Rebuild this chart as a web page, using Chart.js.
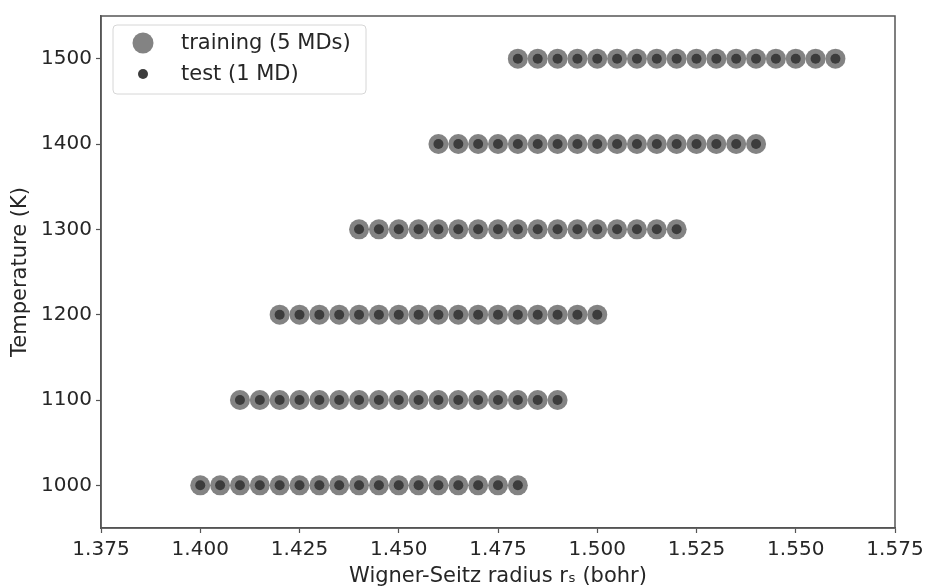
<!DOCTYPE html>
<html>
<head>
<meta charset="utf-8">
<script src="https://cdn.jsdelivr.net/npm/chart.js@4/dist/chart.umd.min.js"></script>
<style>
  html, body { margin: 0; padding: 0; background: #fff; }
  canvas { display: block; }
</style>
</head>
<body>
<canvas id="myChart" width="929" height="586"></canvas>
<script>
// temperatures (K) of each row of MD runs
const temperatures = [1000, 1100, 1200, 1300, 1400, 1500];

// Wigner-Seitz radii, one list per temperature
const rs1000 = [1.400, 1.405, 1.410, 1.415, 1.420, 1.425, 1.430, 1.435, 1.440, 1.445, 1.450, 1.455, 1.460, 1.465, 1.470, 1.475, 1.480];
const rs1100 = [1.410, 1.415, 1.420, 1.425, 1.430, 1.435, 1.440, 1.445, 1.450, 1.455, 1.460, 1.465, 1.470, 1.475, 1.480, 1.485, 1.490];
const rs1200 = [1.420, 1.425, 1.430, 1.435, 1.440, 1.445, 1.450, 1.455, 1.460, 1.465, 1.470, 1.475, 1.480, 1.485, 1.490, 1.495, 1.500];
const rs1300 = [1.440, 1.445, 1.450, 1.455, 1.460, 1.465, 1.470, 1.475, 1.480, 1.485, 1.490, 1.495, 1.500, 1.505, 1.510, 1.515, 1.520];
const rs1400 = [1.460, 1.465, 1.470, 1.475, 1.480, 1.485, 1.490, 1.495, 1.500, 1.505, 1.510, 1.515, 1.520, 1.525, 1.530, 1.535, 1.540];
const rs1500 = [1.480, 1.485, 1.490, 1.495, 1.500, 1.505, 1.510, 1.515, 1.520, 1.525, 1.530, 1.535, 1.540, 1.545, 1.550, 1.555, 1.560];
const rsRows = [rs1000, rs1100, rs1200, rs1300, rs1400, rs1500];

const xTicks = [1.375, 1.400, 1.425, 1.450, 1.475, 1.500, 1.525, 1.550, 1.575];
const yTicks = [1000, 1100, 1200, 1300, 1400, 1500];

const trainingLabel = 'training (5 MDs)';
const testLabel = 'test (1 MD)';

const trainColor = 'rgba(90, 90, 90, 0.75)';
const testColor = '#3c3c3c';
const textColor = '#262626';
const axisColor = '#555';

function toPoints() {
  const pts = [];
  rsRows.forEach((row, i) => {
    row.forEach(r => pts.push({ x: r, y: temperatures[i] }));
  });
  return pts;
}

// frame on all four sides + legend inside the axes
const framePlugin = {
  id: 'frame',
  afterDraw(chart) {
    const { ctx, chartArea: a } = chart;
    ctx.save();
    ctx.strokeStyle = axisColor;
    ctx.lineWidth = 1.5;
    ctx.strokeRect(a.left, a.top, a.right - a.left, a.bottom - a.top);

    // legend box
    const bx = 113, by = 25, bw = 253, bh = 69, rad = 4;
    ctx.beginPath();
    ctx.moveTo(bx + rad, by);
    ctx.arcTo(bx + bw, by, bx + bw, by + bh, rad);
    ctx.arcTo(bx + bw, by + bh, bx, by + bh, rad);
    ctx.arcTo(bx, by + bh, bx, by, rad);
    ctx.arcTo(bx, by, bx + bw, by, rad);
    ctx.closePath();
    ctx.fillStyle = 'rgba(255,255,255,0.8)';
    ctx.fill();
    ctx.strokeStyle = '#d6d6d6';
    ctx.lineWidth = 1;
    ctx.stroke();

    ctx.fillStyle = trainColor;
    ctx.beginPath();
    ctx.arc(143, 43, 10.5, 0, Math.PI * 2);
    ctx.fill();
    ctx.fillStyle = testColor;
    ctx.beginPath();
    ctx.arc(143, 74, 5, 0, Math.PI * 2);
    ctx.fill();

    ctx.fillStyle = textColor;
    ctx.font = '21px "DejaVu Sans"';
    ctx.textBaseline = 'middle';
    ctx.textAlign = 'left';
    ctx.fillText(trainingLabel, 181, 44);
    ctx.fillText(testLabel, 181, 75);
    ctx.restore();
  }
};

const ctx = document.getElementById('myChart').getContext('2d');
const chart = new Chart(ctx, {
  type: 'scatter',
  data: {
    datasets: [
      {
        label: testLabel,
        data: toPoints(),
        backgroundColor: testColor,
        pointRadius: 5,
        pointBorderWidth: 0,
        order: 0
      },
      {
        label: trainingLabel,
        data: toPoints(),
        backgroundColor: trainColor,
        pointRadius: 10,
        pointBorderWidth: 0,
        order: 1
      }
    ]
  },
  options: {
    responsive: false,
    animation: false,
    devicePixelRatio: 1,
    layout: { padding: { top: 14, right: 34, left: 0, bottom: 0 } },
    plugins: {
      legend: { display: false },
      tooltip: { enabled: false }
    },
    scales: {
      x: {
        type: 'linear',
        min: 1.375,
        max: 1.575,
        afterBuildTicks: s => { s.ticks = xTicks.map(v => ({ value: v })); },
        afterFit: s => { s.height = 58; },
        ticks: {
          color: textColor,
          font: { family: 'DejaVu Sans', size: 20 },
          padding: 5,
          maxRotation: 0,
          callback: v => v.toFixed(3)
        },
        grid: { drawOnChartArea: false, drawTicks: true, tickLength: 5, color: axisColor, tickWidth: 1.2 },
        border: { color: axisColor, width: 1.5 },
        title: {
          display: true,
          text: 'Wigner-Seitz radius rₛ (bohr)',
          color: textColor,
          font: { family: 'DejaVu Sans', size: 21 },
          padding: { top: 0, bottom: -3 }
        }
      },
      y: {
        type: 'linear',
        min: 950,
        max: 1550,
        afterBuildTicks: s => { s.ticks = yTicks.map(v => ({ value: v })); },
        afterFit: s => { s.width = 101; },
        ticks: {
          color: textColor,
          font: { family: 'DejaVu Sans', size: 20 },
          padding: 4,
          callback: v => String(v)
        },
        grid: { drawOnChartArea: false, drawTicks: true, tickLength: 5, color: axisColor, tickWidth: 1.2 },
        border: { color: axisColor, width: 1.5 },
        title: {
          display: true,
          text: 'Temperature (K)',
          color: textColor,
          font: { family: 'DejaVu Sans', size: 21 },
          padding: { top: 8, bottom: 0 }
        }
      }
    }
  },
  plugins: [framePlugin]
});
</script>
</body>
</html>
